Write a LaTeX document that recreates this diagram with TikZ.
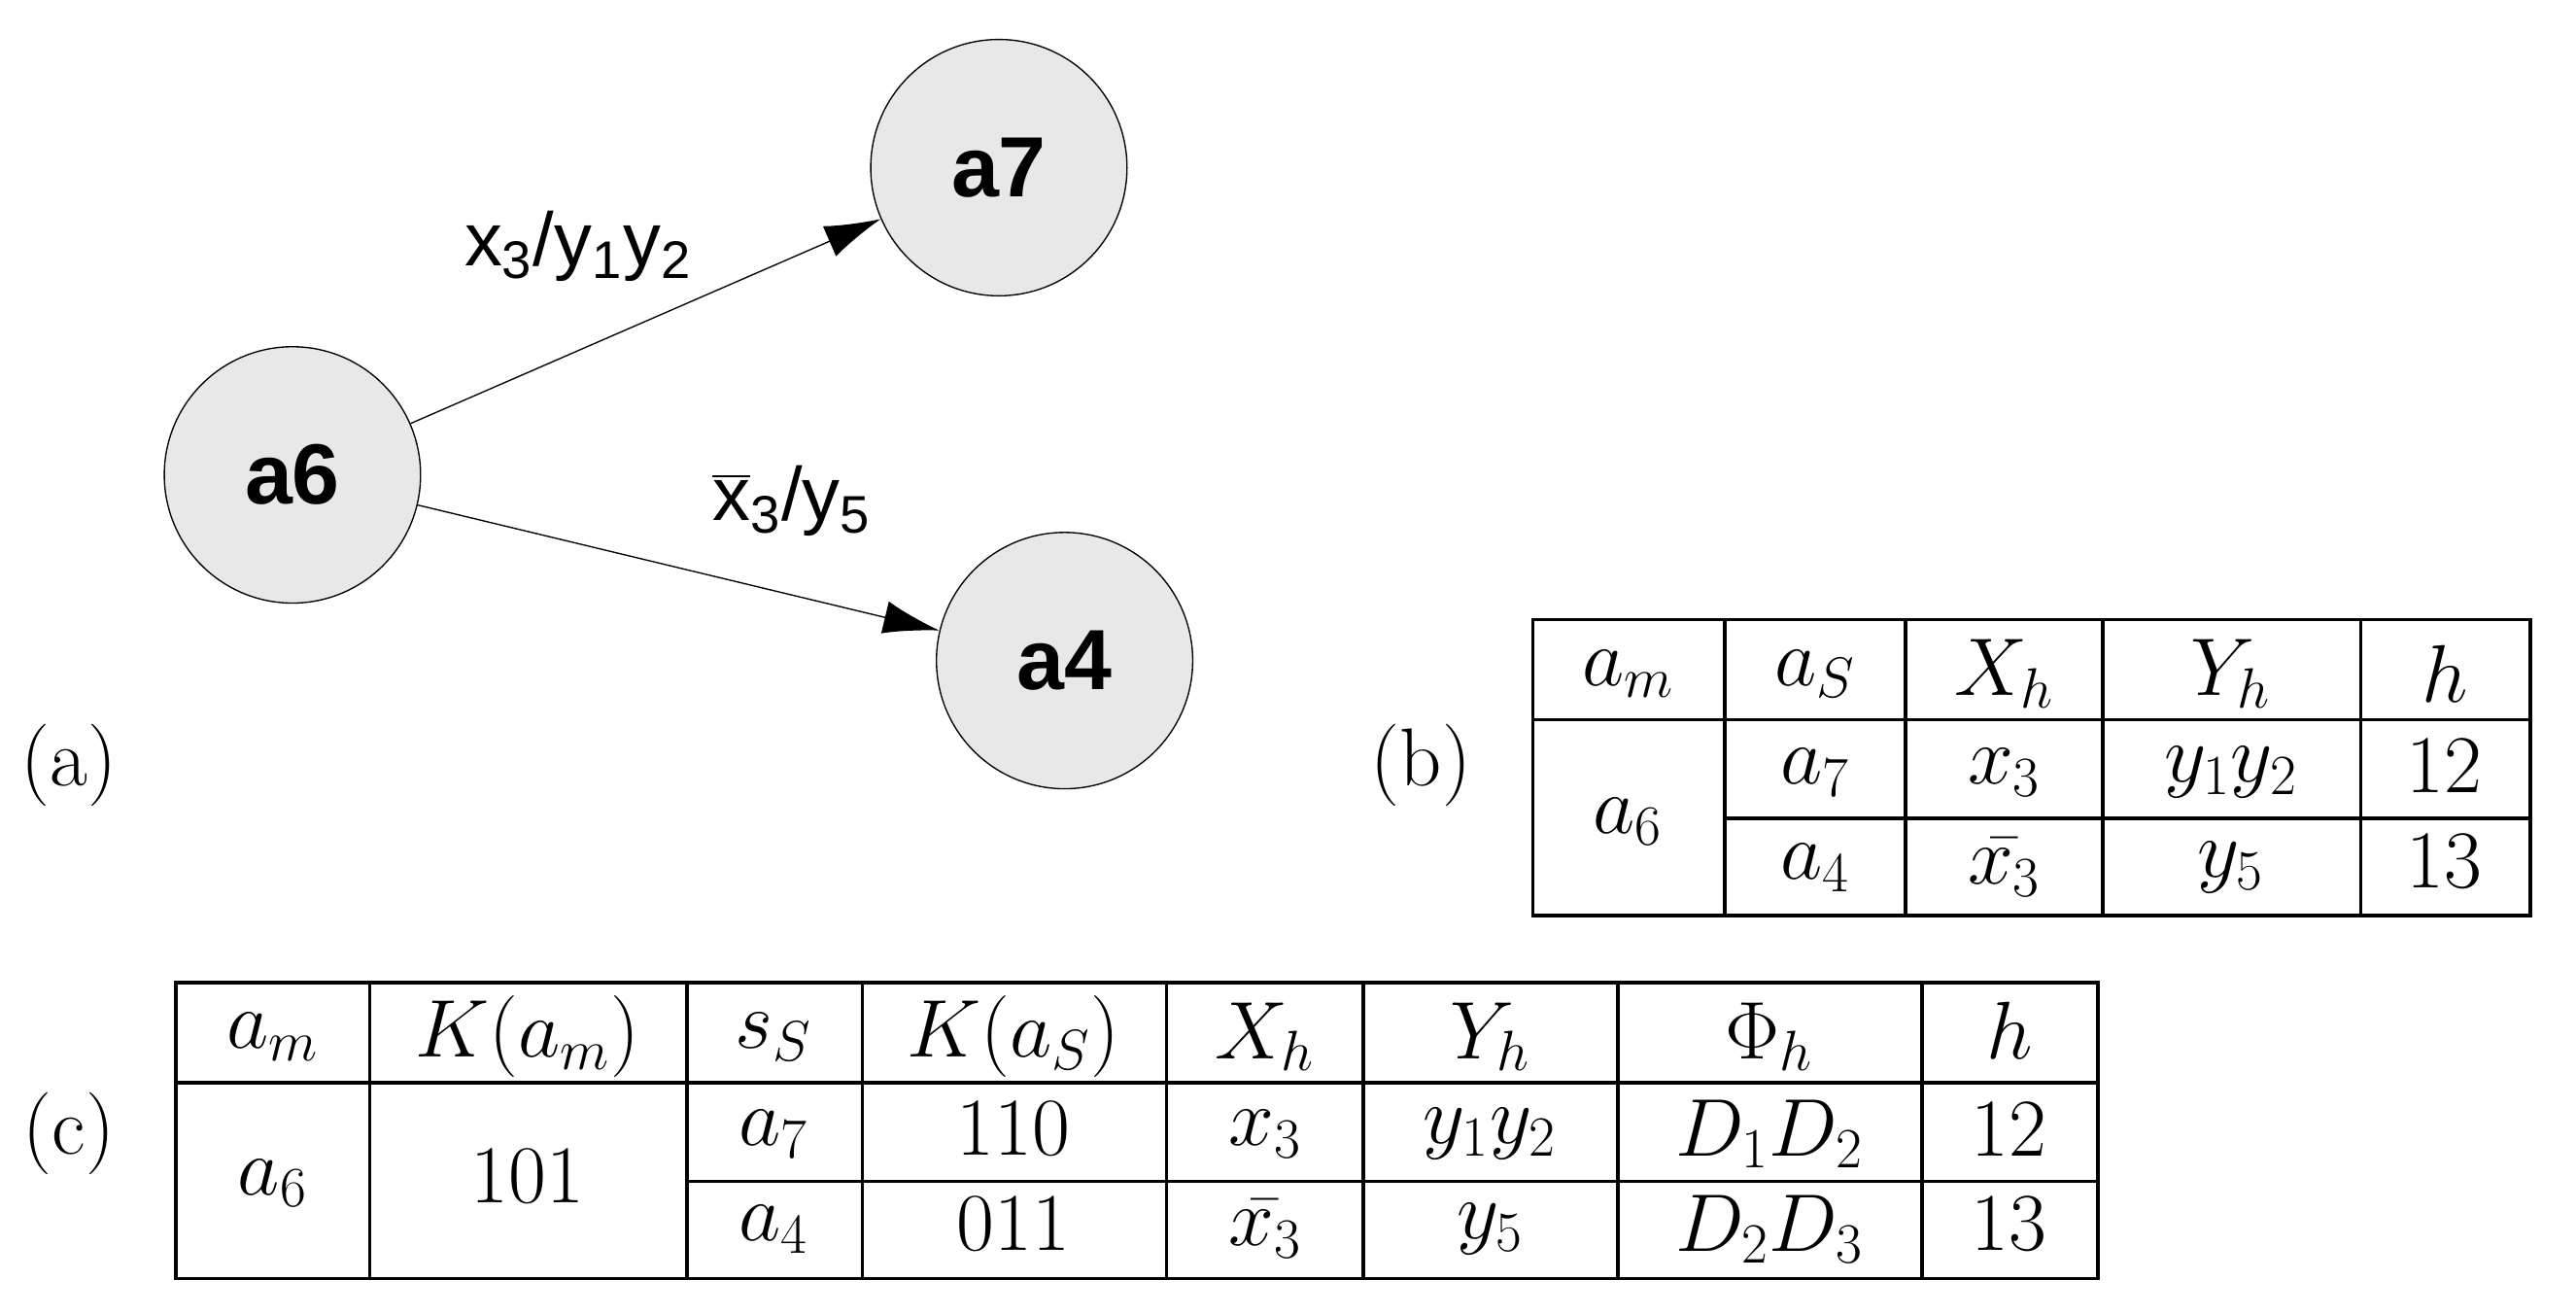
\documentclass[tikz,border=0pt]{standalone}
\usepackage{fontspec}
\newfontfamily\sansf{Liberation Sans}
\usetikzlibrary{arrows.meta}
\begin{document}
\begin{tikzpicture}[x=0.5pt,y=-0.5pt,
  st/.style={circle,draw,fill=gray!18,minimum size=78pt,inner sep=0pt,font=\sansf\bfseries\fontsize{26}{30}\selectfont},
  el/.style={font=\sansf\fontsize{23}{28}\selectfont},
  tl/.style={font=\fontsize{25}{30}\selectfont},
  tx/.style={font=\fontsize{25}{30}\selectfont,anchor=center,inner sep=0pt},
  arr/.style={-{Latex[length=17pt,width=10pt]}},
  grid/.style={line width=1.1pt}]
\useasboundingbox (0,0) rectangle (1568,800);
\node[st] (a6) at (178,289) {a6};
\node[st] (a7) at (608,102) {a7};
\node[st] (a4) at (648,402) {a4};
\draw[arr] (a6) -- (a7);
\draw[arr] (a6) -- (a4);
\node[el] (l1) at (352,150) {x\textsubscript{3}/y\textsubscript{1}y\textsubscript{2}};
\node[el] (l2) at (482,305) {$\overline{\mbox{x}}$\textsubscript{3}/y\textsubscript{5}};
\node[tl] (la) at (42,466) {(a)};
\node[tl] (lb) at (865,466) {(b)};
\node[tl] (lc) at (42,690) {(c)};
% table b
\draw[grid] (933,377) rectangle (1540,557);
\draw[grid] (933,438) -- (1540,438);
\draw[grid] (1050,498) -- (1540,498);
\foreach \x in {1050,1160,1280,1437} \draw[grid] (\x,377) -- (\x,557);
\node[tx] (b1) at (991,410) {$a_m$};
\node[tx] (b2) at (1105,410) {$a_S$};
\node[tx] (b3) at (1220,410) {$X_h$};
\node[tx] (b4) at (1358,410) {$Y_h$};
\node[tx] (b5) at (1488,410) {$h$};
\node[tx] (b6) at (991,500) {$a_6$};
\node[tx] (b7) at (1105,470) {$a_7$};
\node[tx] (b8) at (1220,470) {$x_3$};
\node[tx] (b9) at (1358,470) {$y_1y_2$};
\node[tx] (b10) at (1488,466) {12};
\node[tx] (b11) at (1105,528) {$a_4$};
\node[tx] (b12) at (1220,528) {$\bar{x_3}$};
\node[tx] (b13) at (1358,528) {$y_5$};
\node[tx] (b14) at (1488,524) {13};
% table c
\draw[grid] (107,598) rectangle (1277,778);
\draw[grid] (107,659) -- (1277,659);
\draw[grid] (418,719) -- (1277,719);
\foreach \x in {225,418,525,710,830,985,1170} \draw[grid] (\x,598) -- (\x,778);
\node[tx] (c1) at (166,631) {$a_m$};
\node[tx] (c2) at (321,631) {$K(a_m)$};
\node[tx] (c3) at (471,631) {$s_S$};
\node[tx] (c4) at (617,631) {$K(a_S)$};
\node[tx] (c5) at (770,631) {$X_h$};
\node[tx] (c6) at (907,631) {$Y_h$};
\node[tx] (c7) at (1077,631) {$\Phi_h$};
\node[tx] (c8) at (1223,627) {$h$};
\node[tx] (c9) at (166,720) {$a_6$};
\node[tx] (c10) at (321,716) {101};
\node[tx] (c11) at (471,690) {$a_7$};
\node[tx] (c12) at (617,687) {110};
\node[tx] (c13) at (770,690) {$x_3$};
\node[tx] (c14) at (907,690) {$y_1y_2$};
\node[tx] (c15) at (1077,690) {$D_1D_2$};
\node[tx] (c16) at (1223,687) {12};
\node[tx] (c17) at (471,748) {$a_4$};
\node[tx] (c18) at (617,745) {011};
\node[tx] (c19) at (770,748) {$\bar{x_3}$};
\node[tx] (c20) at (907,748) {$y_5$};
\node[tx] (c21) at (1077,748) {$D_2D_3$};
\node[tx] (c22) at (1223,745) {13};
\end{tikzpicture}
\end{document}
